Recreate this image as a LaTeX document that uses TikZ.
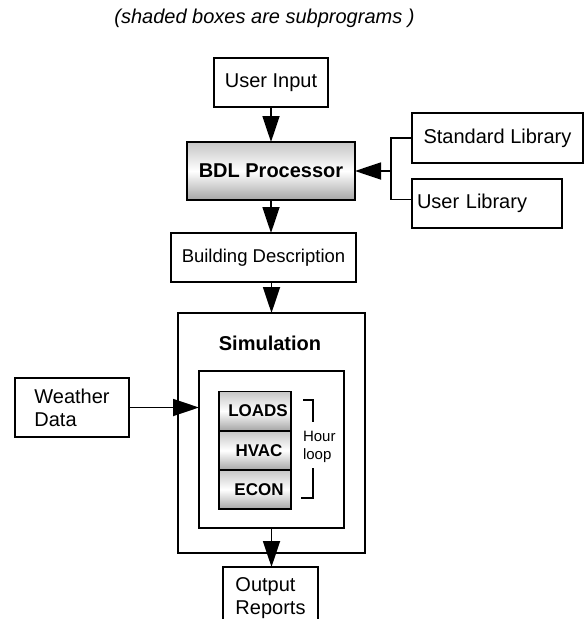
\documentclass[tikz,border=0pt]{standalone}
\usepackage{fontspec}
\setmainfont{Liberation Sans}
\usetikzlibrary{arrows.meta}

\begin{document}
\begin{tikzpicture}[x=1pt,y=-1pt,
  every node/.style={inner sep=0pt, outer sep=0pt},
  framed/.style={draw, line width=1.8pt, align=center,
                 font=\fontsize{20}{23}\selectfont},
  box/.style={framed, fill=white},
  subprog/.style={framed, top color=gray!45, bottom color=gray!70, middle color=white,
                  font=\fontsize{20}{23}\selectfont\bfseries},
  stackbox/.style={subprog, minimum width=72pt, minimum height=39pt,
                   font=\fontsize{17}{20}\selectfont\bfseries},
  flow/.style={line width=1.8pt, -{Triangle[length=26pt,width=17pt]}},
  wire/.style={line width=1.8pt},
  brack/.style={line width=1.2pt}
]
\useasboundingbox (0,0) rectangle (585,619);

% legend
\node (note) at (264.5,18) {\fontsize{20}{23}\selectfont\itshape (shaded boxes are subprograms )};

% preprocessing chain
\node[box, minimum width=114pt, minimum height=49pt] (userin) at (271,82.5) {User Input};
\node[subprog, minimum width=168pt, minimum height=58pt] (bdl) at (271,171) {BDL Processor};
\node[box, minimum width=171pt, minimum height=50pt] (stdlib) at (497.5,138) {Standard Library};
\node[box, minimum height=49pt, text width=140pt, align=left, inner xsep=5pt] (userlib) at (487,203.5) {User Library};
\node[box, minimum width=185pt, minimum height=49pt, font=\fontsize{18.5}{22}\selectfont] (bdesc) at (263.5,257.5) {Building Description};

% simulation block
\node[box, minimum width=187pt, minimum height=240pt] (sim) at (271.5,433) {};
\node[font=\fontsize{20}{23}\selectfont\bfseries] (simtitle) at (270,343) {Simulation};
\node[box, minimum width=145pt, minimum height=157pt] (inner) at (271.5,449.5) {};
\node[stackbox] (loads) at (255,411) {\hspace*{6pt}LOADS};
\node[stackbox] (hvac) at (255,450.5) {\hspace*{8pt}HVAC};
\node[stackbox] (econ) at (255,489.5) {\hspace*{8pt}ECON};

% hour loop bracket
\draw[brack] (303,400) -- (313,400) -- (313,422);
\draw[brack] (313,468) -- (313,498) -- (301,498);
\node[align=left, anchor=west, font=\fontsize{15}{18}\selectfont] (hourloop) at (303,447) {Hour\\loop};

% external inputs and outputs
\node[box, minimum width=114pt, minimum height=59pt, align=left] (weather) at (72,407.5) {Weather\\Data};
\node[box, minimum width=95pt, minimum height=63pt, align=left] (output) at (270.5,598.5) {Output\\Reports};

% connectors
\coordinate (fork) at (391,171);
\draw[flow] (userin.south) -- (userin.south |- bdl.north);
\draw[wire] (stdlib.west) -| (fork);
\draw[wire] ([yshift=4pt]userlib.west) -| (fork);
\draw[flow] (fork) -- (bdl.east);
\draw[flow] (bdl.south) -- (bdl.south |- bdesc.north);
\draw[flow] (sim.north |- bdesc.south) -- (sim.north);
\draw[flow] (weather.east) -- (weather.east -| inner.west);
\draw[flow] (inner.south) -- (inner.south |- output.north);
\end{tikzpicture}
\end{document}
